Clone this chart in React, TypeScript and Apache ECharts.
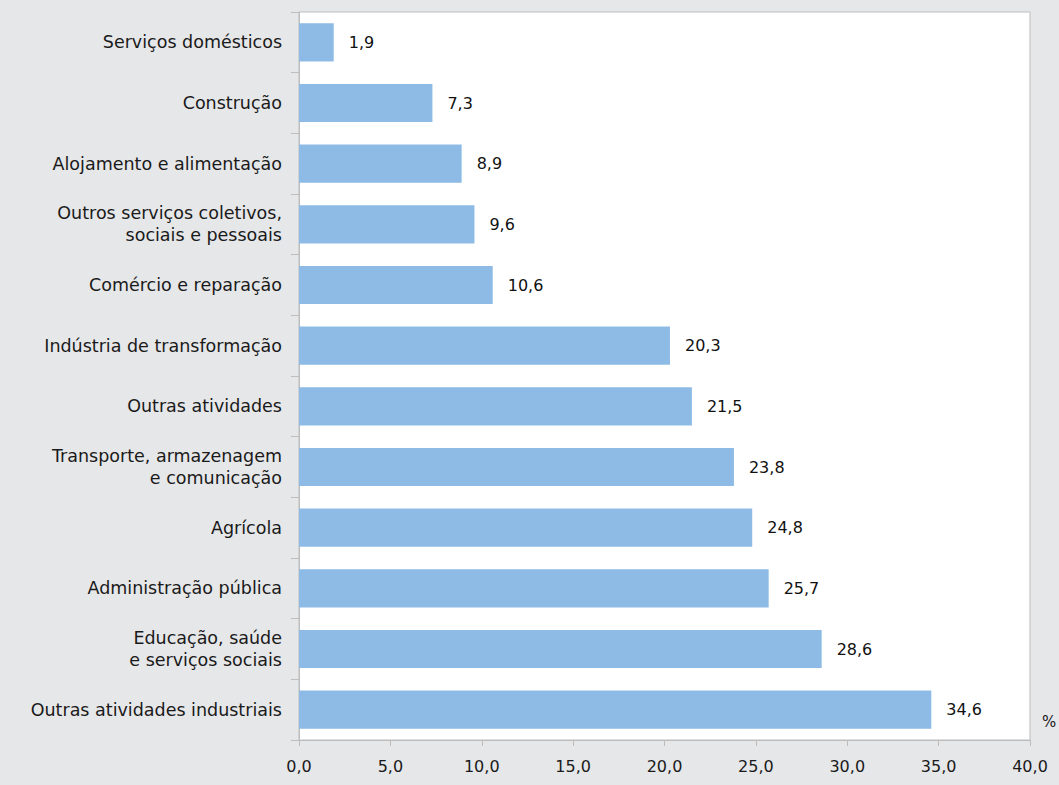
import React, { useEffect, useRef } from "react";
import * as echarts from "echarts";

const categories = [
  "Serviços domésticos",
  "Construção",
  "Alojamento e alimentação",
  "Outros serviços coletivos,\nsociais e pessoais",
  "Comércio e reparação",
  "Indústria de transformação",
  "Outras atividades",
  "Transporte, armazenagem\ne comunicação",
  "Agrícola",
  "Administração pública",
  "Educação, saúde\ne serviços sociais",
  "Outras atividades industriais",
];
const values = [1.9, 7.3, 8.9, 9.6, 10.6, 20.3, 21.5, 23.8, 24.8, 25.7, 28.6, 34.6];
const unitLabel = "%";

const fmt = (v: number) => v.toFixed(1).replace(".", ",");

export default function App() {
  const ref = useRef<HTMLDivElement>(null);
  useEffect(() => {
    if (!ref.current) return;
    const chart = echarts.init(ref.current, undefined, { renderer: "svg" });
    const font = "DejaVu Sans";
    chart.setOption({
      animation: false,
      backgroundColor: "#e6e7e9",
      textStyle: { fontFamily: font },
      grid: {
        left: 299,
        right: 29,
        top: 12,
        bottom: 45,
        show: true,
        backgroundColor: "#ffffff",
        borderColor: "#bdbdbd",
        borderWidth: 1,
      },
      xAxis: {
        type: "value",
        min: 0,
        max: 40,
        interval: 5,
        splitLine: { show: false },
        axisLine: { show: true, lineStyle: { color: "#bdbdbd", width: 1 } },
        axisTick: { show: true, length: 6, lineStyle: { color: "#bdbdbd" } },
        axisLabel: {
          formatter: (v: number) => fmt(v),
          color: "#1a1a1a",
          fontSize: 16,
          margin: 18,
          fontFamily: font,
        },
      },
      yAxis: {
        type: "category",
        data: categories,
        inverse: true,
        axisLine: { show: true, lineStyle: { color: "#bdbdbd", width: 1 } },
        axisTick: { show: true, length: 8, lineStyle: { color: "#bdbdbd" } },
        axisLabel: {
          color: "#1a1a1a",
          fontSize: 17.5,
          margin: 17,
          lineHeight: 22,
          align: "right",
          fontFamily: font,
        },
      },
      series: [
        {
          type: "bar",
          data: values,
          barWidth: "63%",
          itemStyle: { color: "#8dbbe6" },
          label: {
            show: true,
            position: "right",
            distance: 15,
            color: "#111",
            fontSize: 16,
            fontFamily: font,
            formatter: (p: any) => fmt(p.value),
          },
        },
      ],
      graphic: [
        {
          type: "text",
          left: 1042,
          top: 714,
          style: { text: unitLabel, fill: "#1a1a1a", fontSize: 15, fontFamily: font },
        },
      ],
    });
    return () => chart.dispose();
  }, []);
  return (
    <div
      ref={ref}
      style={{ position: "fixed", left: 0, top: 0, width: 1059, height: 785 }}
    />
  );
}
